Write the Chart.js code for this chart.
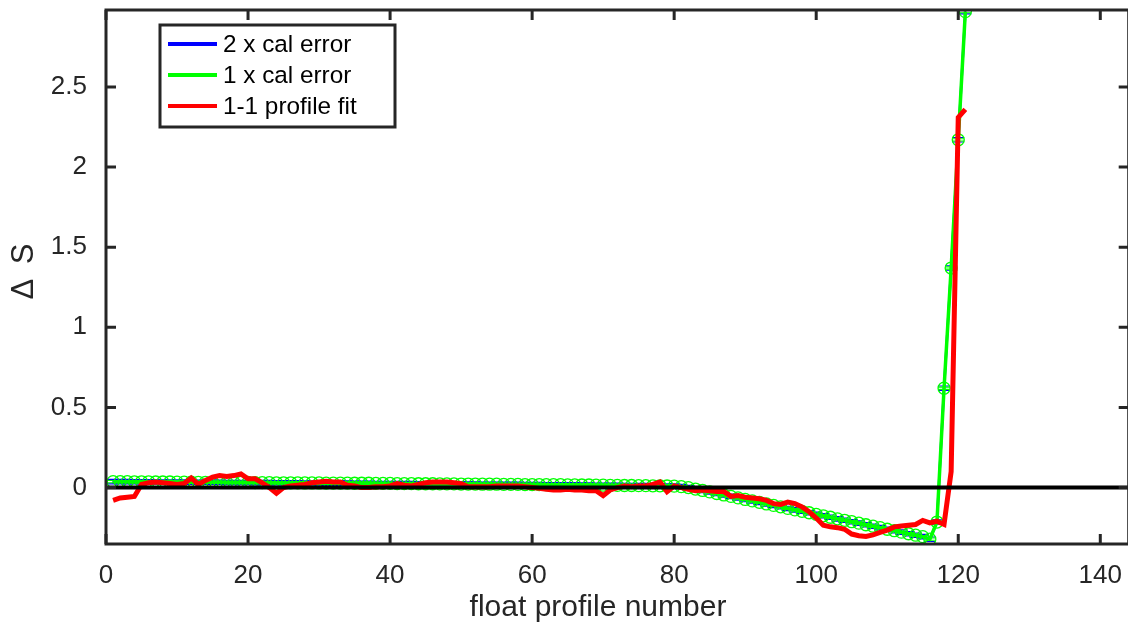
<!DOCTYPE html>
<html>
<head>
<meta charset="utf-8">
<script src="https://cdn.jsdelivr.net/npm/chart.js@4/dist/chart.umd.min.js"></script>
<style>
  html, body { margin: 0; padding: 0; background: #fff; overflow: hidden; }
  #wrap { width: 1136px; height: 628px; }
</style>
</head>
<body>
<div id="wrap"><canvas id="dsChart" width="1136" height="628"></canvas></div>
<script>
// float profile numbers on the x axis
var profiles = Array.from({ length: 121 }, function (_, i) { return i + 1; });

// mapped calibration (same curve for 2x and 1x error bars)
var calMean = [
  0.037, 0.037, 0.037, 0.036, 0.036, 0.036, 0.035, 0.035, 0.035, 0.034,
  0.034, 0.034, 0.033, 0.033, 0.033, 0.033, 0.032, 0.032, 0.032, 0.032,
  0.031, 0.031, 0.031, 0.030, 0.030, 0.030, 0.030, 0.029, 0.029, 0.029,
  0.028, 0.028, 0.028, 0.028, 0.027, 0.027, 0.027, 0.026, 0.026, 0.026,
  0.025, 0.025, 0.025, 0.024, 0.024, 0.024, 0.023, 0.023, 0.023, 0.022,
  0.022, 0.022, 0.021, 0.021, 0.021, 0.020, 0.020, 0.020, 0.019, 0.019,
  0.019, 0.018, 0.018, 0.018, 0.017, 0.017, 0.016, 0.016, 0.015, 0.015,
  0.014, 0.014, 0.013, 0.013, 0.012, 0.012, 0.011, 0.011, 0.010, 0.009,
  0.006, 0.000, -0.009, -0.018, -0.027, -0.037, -0.046, -0.055, -0.064, -0.074,
  -0.083, -0.092, -0.102, -0.111, -0.120, -0.130, -0.139, -0.148, -0.157, -0.167,
  -0.176, -0.185, -0.195, -0.204, -0.213, -0.222, -0.232, -0.241, -0.250, -0.260,
  -0.269, -0.278, -0.288, -0.297, -0.306, -0.322, -0.215,
  0.62, 1.37, 2.17, 2.97
];
var calError = 0.007;

// 1-1 profile fit
var profileFit = [
  -0.080, -0.065, -0.060, -0.055, 0.020, 0.030, 0.035, 0.030, 0.025, 0.020,
  0.025, 0.060, 0.020, 0.045, 0.065, 0.075, 0.070, 0.075, 0.085, 0.055,
  0.055, 0.030, 0.000, -0.035, 0.000, 0.010, 0.015, 0.020, 0.030, 0.035,
  0.040, 0.035, 0.035, 0.015, 0.010, 0.000, 0.000, 0.005, 0.005, 0.010,
  0.025, 0.015, 0.010, 0.020, 0.030, 0.035, 0.035, 0.035, 0.030, 0.025,
  0.005, 0.005, 0.005, 0.005, 0.010, 0.010, 0.010, 0.010, 0.005, 0.000,
  -0.005, -0.010, -0.015, -0.015, -0.010, -0.015, -0.015, -0.020, -0.020, -0.050,
  -0.015, 0.000, 0.010, 0.005, 0.010, 0.010, 0.020, 0.035, -0.025, 0.010,
  0.000, -0.010, -0.020, -0.015, -0.020, -0.025, -0.025, -0.055, -0.050, -0.060,
  -0.065, -0.070, -0.080, -0.100, -0.105, -0.090, -0.100, -0.120, -0.150, -0.190,
  -0.235, -0.245, -0.250, -0.260, -0.290, -0.300, -0.305, -0.295, -0.280, -0.265,
  -0.245, -0.240, -0.235, -0.230, -0.205, -0.220, -0.210, -0.230, 0.100, 2.310,
  2.360
];

var xTicks = [0, 20, 40, 60, 80, 100, 120, 140];
var yTicks = [0, 0.5, 1, 1.5, 2, 2.5];
var seriesNames = ['2 x cal error', '1 x cal error', '1-1 profile fit'];
var seriesColors = ['#0000ff', '#00ff00', '#ff0000'];
var xLabel = 'float profile number';
var yLabel = 'Δ S';

var axisColor = '#262626';
var fontFamily = '"Liberation Sans", Arial, Helvetica, sans-serif';

function toPoints(values) {
  return values.map(function (v, i) { return { x: profiles[i], y: v }; });
}

// vertical error bars with caps, drawn right after their own line
var errorBars = {
  id: 'errorBars',
  afterDatasetDraw: function (chart, args) {
    var ds = chart.data.datasets[args.index];
    if (!ds.errScale) return;
    var xs = chart.scales.x, ys = chart.scales.y, ctx = chart.ctx;
    var area = chart.chartArea;
    ctx.save();
    ctx.beginPath();
    ctx.rect(area.left, area.top, area.right - area.left, area.bottom - area.top);
    ctx.clip();
    ctx.strokeStyle = ds.borderColor;
    ctx.lineWidth = 1.1;
    var e = calError * ds.errScale;
    ds.data.forEach(function (p) {
      var px = xs.getPixelForValue(p.x);
      var yTop = ys.getPixelForValue(p.y + e);
      var yBot = ys.getPixelForValue(p.y - e);
      ctx.beginPath();
      ctx.moveTo(px, yTop); ctx.lineTo(px, yBot);
      ctx.moveTo(px - 6, yTop); ctx.lineTo(px + 6, yTop);
      ctx.moveTo(px - 6, yBot); ctx.lineTo(px + 6, yBot);
      ctx.stroke();
    });
    ctx.restore();
  }
};

// zero line, axes box with inward ticks, axis titles and the boxed legend
var frame = {
  id: 'frame',
  afterDatasetsDraw: function (chart) {
    var ctx = chart.ctx, a = chart.chartArea;
    var y0 = chart.scales.y.getPixelForValue(0);
    ctx.save();
    ctx.strokeStyle = '#000';
    ctx.lineWidth = 4;
    ctx.beginPath();
    ctx.moveTo(a.left, y0);
    ctx.lineTo(a.right, y0);
    ctx.stroke();
    ctx.restore();
  },
  afterDraw: function (chart) {
    var ctx = chart.ctx, a = chart.chartArea;
    var xs = chart.scales.x, ys = chart.scales.y;
    var tl = 10;
    ctx.save();
    ctx.strokeStyle = axisColor;
    ctx.lineWidth = 3;
    ctx.strokeRect(a.left, a.top, a.right - a.left, a.bottom - a.top);
    ctx.beginPath();
    xTicks.forEach(function (t) {
      var px = xs.getPixelForValue(t);
      ctx.moveTo(px, a.bottom); ctx.lineTo(px, a.bottom - tl);
      ctx.moveTo(px, a.top); ctx.lineTo(px, a.top + tl);
    });
    yTicks.forEach(function (t) {
      var py = ys.getPixelForValue(t);
      ctx.moveTo(a.left, py); ctx.lineTo(a.left + tl, py);
      ctx.moveTo(a.right, py); ctx.lineTo(a.right - tl, py);
    });
    ctx.stroke();

    // axis titles
    ctx.fillStyle = axisColor;
    ctx.textAlign = 'center';
    ctx.textBaseline = 'alphabetic';
    ctx.font = '30px ' + fontFamily;
    ctx.fillText(xLabel, 598, 616);
    ctx.save();
    ctx.translate(33, 272);
    ctx.rotate(-Math.PI / 2);
    ctx.font = '31px ' + fontFamily;
    ctx.letterSpacing = '3px';
    ctx.fillText(yLabel, 2, 0);
    ctx.restore();

    // legend
    var lx = 160, ly = 25, lw = 235, lh = 102;
    ctx.fillStyle = '#fff';
    ctx.fillRect(lx, ly, lw, lh);
    ctx.strokeStyle = axisColor;
    ctx.lineWidth = 3;
    ctx.strokeRect(lx, ly, lw, lh);
    ctx.font = '24.3px ' + fontFamily;
    ctx.textBaseline = 'middle';
    ctx.textAlign = 'left';
    seriesNames.forEach(function (name, i) {
      var ry = 44 + i * 31;
      ctx.strokeStyle = seriesColors[i];
      ctx.lineWidth = 4;
      ctx.beginPath();
      ctx.moveTo(168, ry); ctx.lineTo(217, ry);
      ctx.stroke();
      ctx.fillStyle = '#000';
      ctx.fillText(name, 223, ry + 1);
    });
    ctx.restore();
  }
};

var ctx = document.getElementById('dsChart');
var dsChart = new Chart(ctx, {
  type: 'line',
  data: {
    datasets: [{
      label: seriesNames[0],
      data: toPoints(calMean),
      borderColor: seriesColors[0],
      borderWidth: 2.5,
      pointRadius: 0,
      order: 3,
      errScale: 2
    }, {
      label: seriesNames[1],
      data: toPoints(calMean),
      borderColor: seriesColors[1],
      borderWidth: 3.5,
      pointRadius: 6,
      pointBorderWidth: 1.3,
      pointBorderColor: seriesColors[1],
      pointBackgroundColor: 'rgba(0,0,0,0)',
      order: 2,
      errScale: 1
    }, {
      label: seriesNames[2],
      data: toPoints(profileFit),
      borderColor: seriesColors[2],
      borderWidth: 5,
      pointRadius: 0,
      order: 1
    }]
  },
  options: {
    responsive: false,
    animation: false,
    events: [],
    layout: { padding: { top: 10, right: 5, left: 0, bottom: 0 } },
    plugins: {
      legend: { display: false },
      tooltip: { enabled: false }
    },
    scales: {
      x: {
        type: 'linear',
        min: 0,
        max: 144,
        afterFit: function (s) {
          s.height = 84;
          s.paddingLeft = 0;
          s.paddingRight = 0;
        },
        afterBuildTicks: function (s) { s.ticks = xTicks.map(function (v) { return { value: v }; }); },
        grid: { display: false, drawTicks: false },
        border: { display: false },
        ticks: {
          padding: 16,
          color: axisColor,
          font: { family: fontFamily, size: 26 }
        }
      },
      y: {
        min: -0.352,
        max: 2.98,
        afterFit: function (s) {
          s.width = 106;
          s.paddingTop = 0;
          s.paddingBottom = 0;
        },
        afterBuildTicks: function (s) { s.ticks = yTicks.map(function (v) { return { value: v }; }); },
        grid: { display: false, drawTicks: false },
        border: { display: false },
        ticks: {
          padding: 19,
          color: axisColor,
          font: { family: fontFamily, size: 26 },
          callback: function (v) { return String(v); }
        }
      }
    }
  },
  plugins: [errorBars, frame]
});
</script>
</body>
</html>
